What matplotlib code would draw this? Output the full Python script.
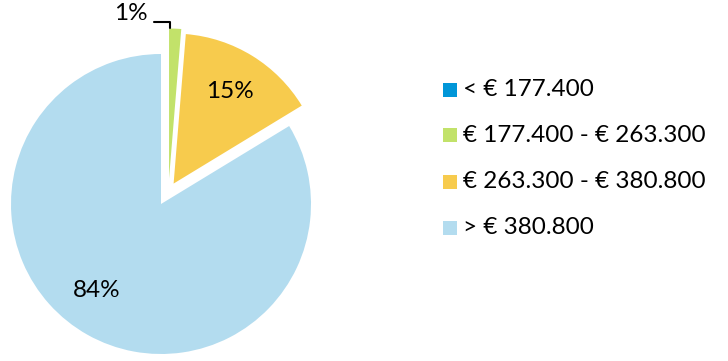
import matplotlib
matplotlib.use("Agg")
import matplotlib.pyplot as plt
from matplotlib.patches import Rectangle
import numpy as np

plt.rcParams['font.family'] = ['Lato', 'DejaVu Sans']

categories = ["< € 177.400", "€ 177.400 - € 263.300", "€ 263.300 - € 380.800", "> € 380.800"]
values = [0.0, 1.3, 15.0, 83.7]
pct_labels = ["", "1%", "15%", "84%"]
colors = ["#0096D8", "#C2E26A", "#F7CB4D", "#B3DCEF"]
explode = [0.0, 0.17, 0.16, 0.0]

fig = plt.figure(figsize=(7.28, 3.61), dpi=100)
ax = fig.add_axes([0, 0, 1, 1])

cx, cy, r = 161, 361 - 204, 150
wedges, texts = ax.pie(values, colors=colors, explode=[e * r for e in explode], startangle=90,
                       counterclock=False, radius=r, center=(cx, cy), frame=True,
                       wedgeprops=dict(linewidth=0))
ax.set_xlim(0, 728)
ax.set_ylim(0, 361)
ax.axis('off')

# small sideways nudge of the thin exploded slice
gc = wedges[1].center
wedges[1].set_center((gc[0] + 7, gc[1]))

FS = 17.5
label_angle_shift = {"15%": 0.0, "84%": -7.0}
for w, lab in zip(wedges, pct_labels):
    if lab in label_angle_shift:
        ang = np.deg2rad((w.theta1 + w.theta2) / 2 + label_angle_shift[lab])
        c = w.center
        ax.text(c[0] + 0.72 * r * np.cos(ang), c[1] + 0.72 * r * np.sin(ang), lab,
                ha='center', va='center', fontsize=FS, color='black')

# 1% label with leader line
w = wedges[1]
tip = (w.center[0] + 1, w.center[1] + r + 1)
ax.text(131, 361 - 13, "1%", ha='center', va='center', fontsize=FS, color='black')
ax.annotate("", xy=tip, xytext=(154, 361 - 22),
            arrowprops=dict(arrowstyle='-', color='black', lw=1.5,
                            shrinkA=0, shrinkB=0,
                            connectionstyle="angle,angleA=0,angleB=90,rad=0"))

# legend
ys = [90, 135, 182, 228]
for cat, col, y in zip(categories, colors, ys):
    ax.add_patch(Rectangle((443, 361 - y - 7), 14, 14, facecolor=col, edgecolor='none'))
    ax.text(463, 361 - y, cat, ha='left', va='center', fontsize=FS, color='black')

fig.savefig("out.png", dpi=100)
